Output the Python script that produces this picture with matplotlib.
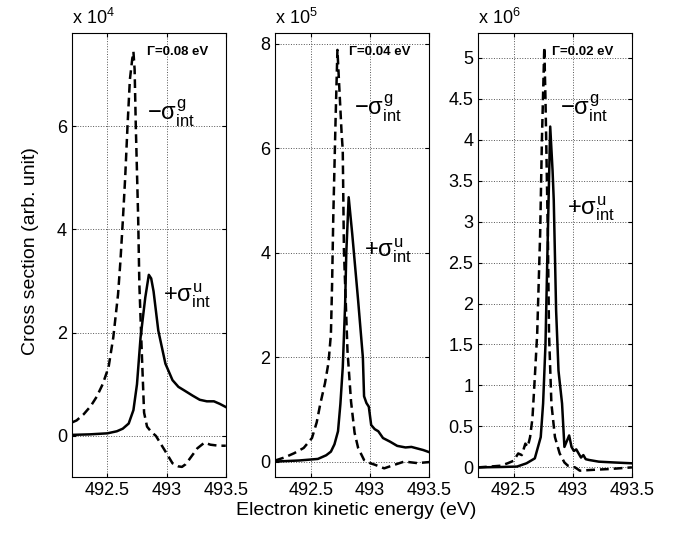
import matplotlib
matplotlib.use("Agg")
import matplotlib.pyplot as plt

plt.rcParams["font.family"] = ["Liberation Sans", "DejaVu Sans"]
plt.rcParams["mathtext.fontset"] = "custom"
plt.rcParams["mathtext.rm"] = "Liberation Sans"
plt.rcParams["mathtext.it"] = "Liberation Sans"
plt.rcParams["mathtext.sf"] = "Liberation Sans"

# panel 1, Gamma = 0.08 eV (x 10^4)
e1_g = [492.20, 492.24, 492.30, 492.36, 492.41, 492.46, 492.51, 492.55, 492.59, 492.61,
        492.63, 492.65, 492.67, 492.69, 492.71, 492.72, 492.73, 492.74, 492.76, 492.77,
        492.79, 492.81, 492.835, 492.87, 492.91, 492.95, 492.99, 493.05, 493.10, 493.13,
        493.16, 493.19, 493.26, 493.32, 493.37, 493.44, 493.50]
v1_g = [0.26, 0.30, 0.42, 0.58, 0.76, 1.0, 1.33, 1.91, 2.74, 3.38,
        4.15, 4.99, 6.0, 6.9, 7.3, 7.44, 7.1, 6.0, 4.22, 2.94,
        1.65, 0.45, 0.18, 0.08, 0.0, -0.15, -0.3, -0.53, -0.59, -0.6,
        -0.55, -0.46, -0.24, -0.13, -0.17, -0.19, -0.19]
e1_u = [492.20, 492.35, 492.50, 492.58, 492.63, 492.68, 492.72, 492.75, 492.78, 492.82,
        492.85, 492.87, 492.89, 492.93, 492.99, 493.05, 493.10, 493.15, 493.22, 493.28,
        493.34, 493.40, 493.45, 493.50]
v1_u = [0.02, 0.03, 0.05, 0.09, 0.14, 0.24, 0.5, 1.0, 1.9, 2.68,
        3.12, 3.05, 2.8, 2.04, 1.4, 1.08, 0.95, 0.88, 0.78, 0.70,
        0.67, 0.67, 0.62, 0.56]

# panel 2, Gamma = 0.04 eV (x 10^5)
e2_g = [492.20, 492.28, 492.36, 492.44, 492.51, 492.55, 492.58, 492.62, 492.65, 492.67,
        492.68, 492.69, 492.70, 492.71, 492.725, 492.74, 492.76, 492.77, 492.78, 492.81,
        492.84, 492.87, 492.90, 492.95, 493.00, 493.04, 493.12, 493.21, 493.29, 493.40,
        493.50]
v2_g = [0.02, 0.08, 0.16, 0.26, 0.45, 0.75, 1.1, 1.5, 1.9, 2.44,
        3.4, 4.68, 5.64, 6.6, 7.88, 7.2, 6.3, 5.96, 4.04, 2.12,
        1.15, 0.55, 0.26, 0.03, -0.03, -0.06, -0.13, -0.06, 0.0, -0.03,
        -0.01]
e2_u = [492.20, 492.40, 492.56, 492.63, 492.67, 492.70, 492.73, 492.75, 492.77, 492.79,
        492.80, 492.82, 492.85, 492.90, 492.94, 492.95, 492.97, 492.99, 493.01, 493.04,
        493.07, 493.11, 493.17, 493.23, 493.30, 493.35, 493.40, 493.45, 493.50]
v2_u = [0.0, 0.02, 0.05, 0.12, 0.19, 0.33, 0.58, 1.1, 1.8, 3.0,
        4.0, 5.06, 4.36, 3.08, 1.99, 1.25, 1.12, 1.05, 0.7, 0.62,
        0.58, 0.45, 0.38, 0.30, 0.27, 0.28, 0.25, 0.22, 0.18]

# panel 3, Gamma = 0.02 eV (x 10^6)
e3_g = [492.20, 492.30, 492.39, 492.45, 492.50, 492.54, 492.57, 492.60, 492.62, 492.64,
        492.66, 492.68, 492.70, 492.725, 492.74, 492.76, 492.77, 492.79, 492.80, 492.82,
        492.85, 492.89, 492.93, 492.96, 493.02, 493.06, 493.17, 493.31, 493.50]
v3_g = [0.0, 0.01, 0.02, 0.05, 0.08, 0.17, 0.15, 0.29, 0.25, 0.37,
        0.6, 1.1, 1.63, 2.85, 4.0, 5.13, 4.5, 2.85, 1.63, 0.78,
        0.37, 0.17, 0.06, 0.02, 0.0, -0.04, -0.03, -0.02, 0.0]
e3_u = [492.20, 492.40, 492.53, 492.61, 492.68, 492.73, 492.75, 492.77, 492.79, 492.81,
        492.83, 492.84, 492.86, 492.88, 492.91, 492.93, 492.95, 492.97, 492.99, 493.01,
        493.03, 493.05, 493.07, 493.09, 493.11, 493.14, 493.22, 493.35, 493.50]
v3_u = [0.0, 0.005, 0.01, 0.05, 0.11, 0.37, 0.78, 1.5, 2.85, 4.16,
        3.62, 3.26, 1.91, 1.18, 0.78, 0.25, 0.32, 0.39, 0.25, 0.2,
        0.22, 0.17, 0.12, 0.15, 0.1, 0.09, 0.07, 0.06, 0.05]

gammas = ["\u0393=0.08 eV", "\u0393=0.04 eV", "\u0393=0.02 eV"]
exps = ["4", "5", "6"]
ylims = [(-0.8, 7.8), (-0.3, 8.2), (-0.12, 5.3)]
yticks = [[0, 2, 4, 6], [0, 2, 4, 6, 8], [0, 0.5, 1, 1.5, 2, 2.5, 3, 3.5, 4, 4.5, 5]]
ytlabels = [["0", "2", "4", "6"], ["0", "2", "4", "6", "8"],
            ["0", "0.5", "1", "1.5", "2", "2.5", "3", "3.5", "4", "4.5", "5"]]
xticks = [492.5, 493, 493.5]
xtlabels = ["492.5", "493", "493.5"]

curves = [(e1_g, v1_g, e1_u, v1_u), (e2_g, v2_g, e2_u, v2_u), (e3_g, v3_g, e3_u, v3_u)]
lefts = [0.106, 0.406, 0.705]
# label positions in axes fraction: (gamma), (-sigma g), (+sigma u)
g_pos = [(0.49, 0.957), (0.48, 0.957), (0.48, 0.957)]
sg_pos = [(0.49, 0.82), (0.51, 0.83), (0.53, 0.83)]
su_pos = [(0.59, 0.41), (0.575, 0.51), (0.58, 0.605)]

fig = plt.figure(figsize=(6.78, 5.35), dpi=100)
for i in range(3):
    ax = fig.add_axes([lefts[i], 0.108, 0.227, 0.830])
    eg, vg, eu, vu = curves[i]
    ax.plot(eg, vg, color="black", lw=1.8, linestyle=(0, (3.5, 2.0)))
    ax.plot(eu, vu, color="black", lw=1.8)
    ax.set_xlim(492.2, 493.5)
    ax.set_ylim(*ylims[i])
    ax.set_xticks(xticks)
    ax.set_xticklabels(xtlabels)
    ax.set_yticks(yticks[i])
    ax.set_yticklabels(ytlabels[i])
    ax.grid(True, linestyle=":", color="#555555", lw=0.7)
    ax.tick_params(direction="in", top=True, right=True, length=3, labelsize=13)
    for s in ax.spines.values():
        s.set_linewidth(0.8)
    ax.text(0.0, 1.012, "x 10$^{" + exps[i] + "}$", transform=ax.transAxes,
            fontsize=13, ha="left", va="bottom")
    ax.text(g_pos[i][0], g_pos[i][1], gammas[i], transform=ax.transAxes,
            fontsize=9.5, fontweight="bold", ha="left", va="center")
    ax.text(sg_pos[i][0], sg_pos[i][1], r"$-\sigma^{\mathrm{g}}_{\mathrm{int}}$",
            transform=ax.transAxes, fontsize=17, ha="left", va="center")
    ax.text(su_pos[i][0], su_pos[i][1], r"$+\sigma^{\mathrm{u}}_{\mathrm{int}}$",
            transform=ax.transAxes, fontsize=17, ha="left", va="center")

fig.text(0.045, 0.53, "Cross section (arb. unit)", rotation=90, fontsize=14,
         ha="center", va="center")
fig.text(0.525, 0.045, "Electron kinetic energy (eV)", fontsize=14,
         ha="center", va="center")
fig.savefig("out.png", dpi=100)
